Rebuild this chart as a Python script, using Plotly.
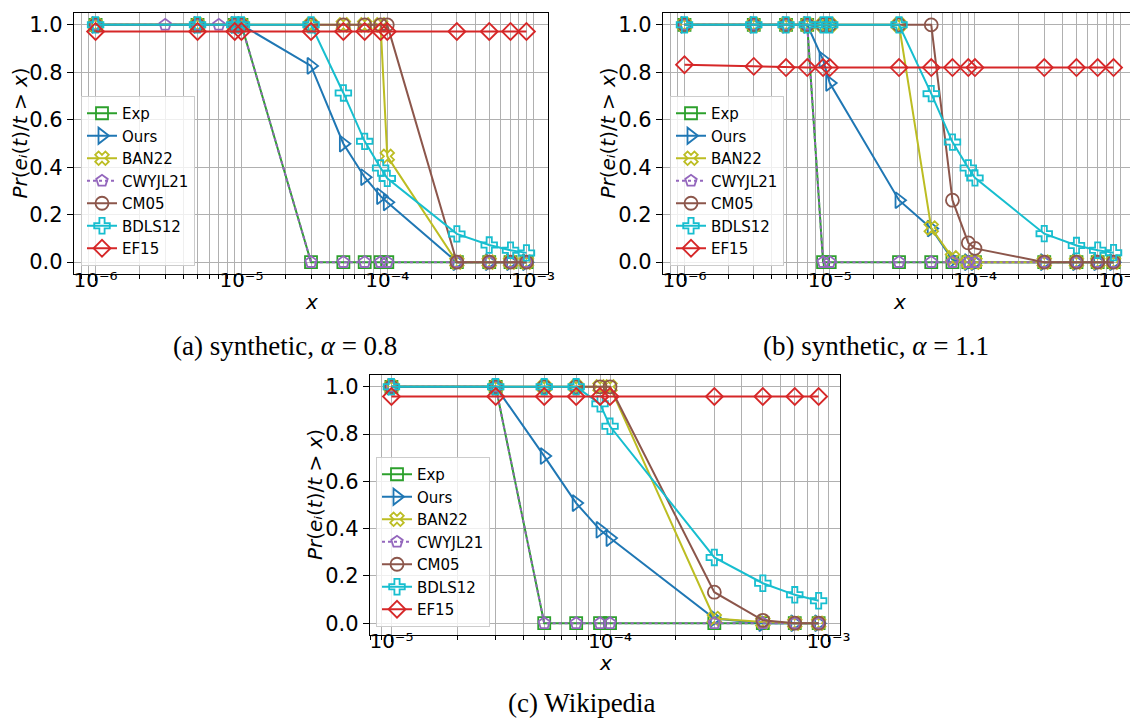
import plotly.graph_objects as go

# ---------------- data ----------------
series_names = ["Exp", "Ours", "BAN22", "CWYJL21", "CM05", "BDLS12", "EF15"]

# (a) synthetic, alpha = 0.8
x_a = [1e-6, 5e-6, 9e-6, 1e-5, 3e-5, 5e-5, 7e-5, 9e-5, 1e-4, 3e-4, 5e-4, 7e-4, 9e-4]
x_a_cw = [1e-6, 3e-6, 5e-6, 7e-6, 9e-6, 1e-5, 3e-5, 5e-5, 7e-5, 9e-5, 1e-4, 3e-4, 5e-4, 7e-4, 9e-4]
a_exp = [1, 1, 1, 1, 0, 0, 0, 0, 0, 0, 0, 0, 0]
a_ours = [1, 1, 1, 1, 0.827, 0.499, 0.358, 0.278, 0.252, 0, 0, 0, 0]
a_ban22 = [1, 1, 1, 1, 1, 1, 1, 1, 0.446, 0, 0, 0, 0]
a_cwyjl21 = [1, 1, 1, 1, 1, 1, 0, 0, 0, 0, 0, 0, 0, 0, 0]
a_cm05 = [1, 1, 1, 1, 1, 1, 1, 1, 1, 0, 0, 0, 0]
a_bdls12 = [1, 1, 1, 1, 1, 0.713, 0.509, 0.397, 0.353, 0.119, 0.072, 0.05, 0.039]
a_ef15 = [0.972, 0.972, 0.972, 0.972, 0.972, 0.972, 0.972, 0.972, 0.972, 0.972, 0.972, 0.972, 0.972]

# (b) synthetic, alpha = 1.1
x_b = [1e-6, 3e-6, 5e-6, 7e-6, 9e-6, 1e-5, 3e-5, 5e-5, 7e-5, 9e-5, 1e-4, 3e-4, 5e-4, 7e-4, 9e-4]
b_exp = [1, 1, 1, 1, 0, 0, 0, 0, 0, 0, 0, 0, 0, 0, 0]
b_ours = [1, 1, 1, 1, 0.853, 0.755, 0.261, 0.142, 0.01, 0, 0, 0, 0, 0, 0]
b_ban22 = [1, 1, 1, 1, 1, 1, 1, 0.144, 0.018, 0, 0, 0, 0, 0, 0]
b_cwyjl21 = [1, 1, 1, 1, 0, 0, 0, 0, 0, 0, 0, 0, 0, 0, 0]
b_cm05 = [1, 1, 1, 1, 1, 1, 1, 1, 0.261, 0.081, 0.058, 0, 0, 0, 0]
b_bdls12 = [1, 1, 1, 1, 1, 1, 1, 0.71, 0.506, 0.397, 0.355, 0.12, 0.07, 0.05, 0.04]
b_ef15 = [0.832, 0.825, 0.82, 0.82, 0.82, 0.82, 0.82, 0.82, 0.82, 0.82, 0.82, 0.82, 0.82, 0.82, 0.82]

# (c) Wikipedia
x_c = [1e-5, 3e-5, 5e-5, 7e-5, 9e-5, 1e-4, 3e-4, 5e-4, 7e-4, 9e-4]
c_exp = [1, 1, 0, 0, 0, 0, 0, 0, 0, 0]
c_ours = [1, 1, 0.707, 0.508, 0.395, 0.36, 0.02, 0, 0, 0]
c_ban22 = [1, 1, 1, 1, 1, 1, 0.02, 0.005, 0, 0]
c_cwyjl21 = [1, 1, 0, 0, 0, 0, 0, 0, 0, 0]
c_cm05 = [1, 1, 1, 1, 1, 1, 0.131, 0.012, 0, 0]
c_bdls12 = [1, 1, 1, 1, 0.928, 0.833, 0.278, 0.169, 0.12, 0.095]
c_ef15 = [0.959, 0.959, 0.959, 0.959, 0.959, 0.959, 0.959, 0.959, 0.959, 0.959]

y_ticks = [0.0, 0.2, 0.4, 0.6, 0.8, 1.0]
x_major_ticks = [1e-6, 1e-5, 1e-4, 1e-3]
x_major_labels = ["10⁻⁶", "10⁻⁵", "10⁻⁴", "10⁻³"]
captions = ["(a) synthetic, <i>α</i> = 0.8", "(b) synthetic, <i>α</i> = 1.1", "(c) Wikipedia"]
y_title = "<i>Pr</i>(<i>eᵢ</i>(<i>t</i>)/<i>t</i> > <i>x</i>)"

# ---------------- styles ----------------
colors = {"Exp": "#2ca02c", "Ours": "#1f77b4", "BAN22": "#bcbd22", "CWYJL21": "#9467bd",
          "CM05": "#8c564b", "BDLS12": "#17becf", "EF15": "#d62728"}
symbols = {"Exp": "square-open", "Ours": "triangle-right-open", "BAN22": "x-open",
           "CWYJL21": "pentagon-open", "CM05": "circle-open", "BDLS12": "cross-open",
           "EF15": "diamond-open"}
msize = {"Exp": 12, "Ours": 14, "BAN22": 12, "CWYJL21": 12, "CM05": 13, "BDLS12": 13, "EF15": 13}
dashes = {"CWYJL21": "dot"}

W, H = 1138, 722

panels = [
    dict(x={"Exp": x_a, "Ours": x_a, "BAN22": x_a, "CWYJL21": x_a_cw, "CM05": x_a, "BDLS12": x_a, "EF15": x_a},
         y={"Exp": a_exp, "Ours": a_ours, "BAN22": a_ban22, "CWYJL21": a_cwyjl21, "CM05": a_cm05,
            "BDLS12": a_bdls12, "EF15": a_ef15},
         px=(66, 540), py=(5, 266), xr=(-6.148, -2.898), leg=(73, 88), cap=(277, 338), yt=12),
    dict(x={n: x_b for n in series_names},
         y={"Exp": b_exp, "Ours": b_ours, "BAN22": b_ban22, "CWYJL21": b_cwyjl21, "CM05": b_cm05,
            "BDLS12": b_bdls12, "EF15": b_ef15},
         px=(655, 1127), py=(5, 266), xr=(-6.148, -2.898), leg=(662, 88), cap=(868, 338), yt=600),
    dict(x={n: x_c for n in series_names},
         y={"Exp": c_exp, "Ours": c_ours, "BAN22": c_ban22, "CWYJL21": c_cwyjl21, "CM05": c_cm05,
            "BDLS12": c_bdls12, "EF15": c_ef15},
         px=(362, 832), py=(367, 627), xr=(-5.098, -2.948), leg=(368, 449), cap=(574, 695), yt=307),
]

fig = go.Figure()
layout = dict(width=W, height=H, margin=dict(l=0, r=0, t=0, b=0),
              paper_bgcolor="white", plot_bgcolor="white",
              font=dict(family="DejaVu Sans", size=15, color="black"))
annotations = []

for i, p in enumerate(panels):
    k = "" if i == 0 else str(i + 1)
    legname = "legend" + k
    for n in series_names:
        fig.add_trace(go.Scatter(
            x=p["x"][n], y=p["y"][n], name=n, mode="lines+markers",
            xaxis="x" + k, yaxis="y" + k, legend=legname,
            line=dict(color=colors[n], width=2, dash=dashes.get(n, "solid")),
            marker=dict(symbol=symbols[n], size=msize[n], color=colors[n],
                        line=dict(width=1.8, color=colors[n])),
        ))
    xd = [p["px"][0] / W, p["px"][1] / W]
    yd = [1 - p["py"][1] / H, 1 - p["py"][0] / H]
    layout["xaxis" + k] = dict(
        type="log", domain=xd, range=list(p["xr"]), anchor="y" + k,
        tickvals=x_major_ticks, ticktext=x_major_labels, ticklabeloverflow="allow",
        ticklabelstandoff=-18,
        tickfont=dict(size=20), ticks="outside", ticklen=6, tickwidth=1.2, tickcolor="black",
        showline=True, linecolor="black", linewidth=1.3, mirror=True,
        showgrid=True, gridcolor="#b0b0b0", gridwidth=1,
        minor=dict(dtick="D1", showgrid=True, gridcolor="#b0b0b0", gridwidth=1,
                   ticks="outside", ticklen=3.5, tickcolor="black", tickwidth=1),
        zeroline=False, automargin=False,
    )
    layout["yaxis" + k] = dict(
        domain=yd, range=[-0.05, 1.05], anchor="x" + k,
        tickvals=y_ticks, tickformat=".1f", tickfont=dict(size=21),
        ticks="outside", ticklen=6, tickwidth=1.2, tickcolor="black",
        showline=True, linecolor="black", linewidth=1.3, mirror=True,
        showgrid=True, gridcolor="#b0b0b0", gridwidth=1,
        zeroline=False, automargin=False,
    )
    layout[legname] = dict(
        x=p["leg"][0] / W, y=1 - p["leg"][1] / H, xanchor="left", yanchor="top",
        xref="paper", yref="paper",
        bgcolor="rgba(255,255,255,0.8)", bordercolor="#cccccc", borderwidth=1,
        font=dict(size=15), tracegroupgap=0, itemwidth=30,
    )
    # x-axis label
    annotations.append(dict(
        text="<i>x</i>", x=(p["px"][0] + p["px"][1]) / 2 / W, y=1 - (p["py"][1] + 28) / H,
        xref="paper", yref="paper", xanchor="center", yanchor="middle", showarrow=False,
        font=dict(family="DejaVu Sans", size=20, color="black"),
    ))
    # y-axis label
    annotations.append(dict(
        text=y_title, x=p["yt"] / W, y=1 - ((p["py"][0] + p["py"][1]) / 2 - 10) / H, textangle=-90,
        xref="paper", yref="paper", xanchor="center", yanchor="middle", showarrow=False,
        font=dict(family="DejaVu Sans", size=20, color="black"),
    ))
    annotations.append(dict(
        text=captions[i], x=p["cap"][0] / W, y=1 - p["cap"][1] / H,
        xref="paper", yref="paper", xanchor="center", yanchor="middle", showarrow=False,
        font=dict(family="Liberation Serif", size=27, color="black"),
    ))

layout["annotations"] = annotations
fig.update_layout(**layout)
fig.write_html("out.html")
